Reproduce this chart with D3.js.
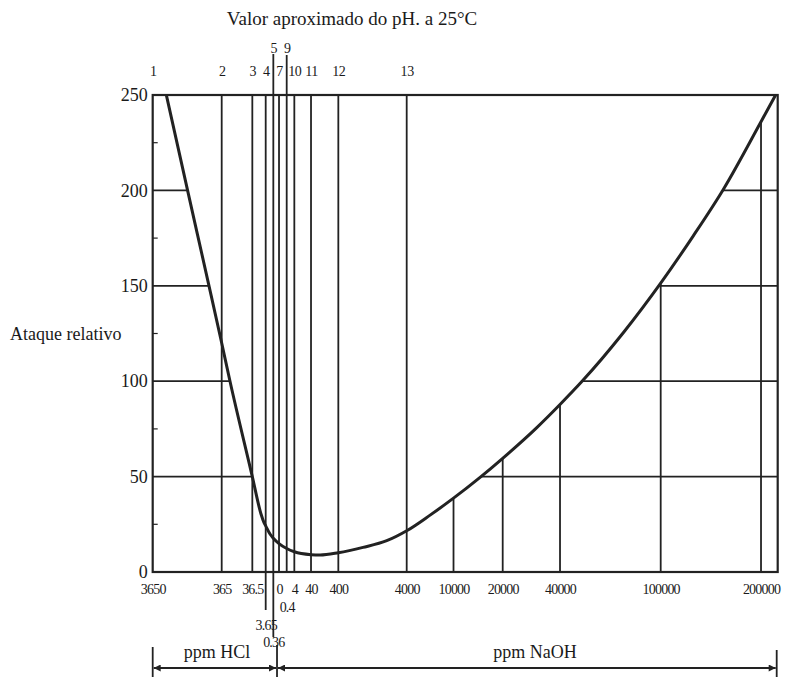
<!DOCTYPE html>
<html><head><meta charset="utf-8">
<script src="https://cdn.jsdelivr.net/npm/d3@7"></script>
<style>
body{margin:0;background:#fff}
svg{display:block}
text{font-family:"Liberation Serif","Times New Roman",serif;fill:#1a1a1a}
</style>
</head><body>
<svg id="c" width="786" height="677"></svg>
<script>
// ---------- data ----------
const ppmStops = [-3650,-365,-36.5,-3.65,-0.36,0,0.4,4,40,400,4000,10000,20000,40000,100000,200000,216000];
const stopFractions = [0,0.1104,0.1594,0.1808,0.193,0.2021,0.2144,0.2266,0.2533,0.297,0.4064,0.4813,0.56,0.6517,0.8128,0.9733,1];
const phTicks  = [-3650,-365,-36.5,-3.65,-0.36,0,0.4,4,40,400,4000];
const phLabels = ["1","2","3","4","5","7","9","10","11","12","13"];
const ppmTicks  = [-3650,-365,-36.5,-3.65,-0.36,0,0.4,4,40,400,4000,10000,20000,40000,100000,200000];
const ppmLabels = ["3650","365","36.5","3.65","0.36","0","0.4","4","40","400","4000","10000","20000","40000","100000","200000"];
const yTicks = [0,50,100,150,200,250];
const yMinorTicks = [25,75,125,175,225];
const curvePpm    = [-3000,-2000,-970,-365,-276,-36.5,-15.2,-7.8,-3.65,-1.79,-0.36,0,0.4,4,40,160,400,1700,2950,4000,7000,10000,15400,20000,31900,40000,53000,77700,100000,132500,162400,200000,214000];
const curveAttack = [250,200.5,150,120,100,50,30.4,25.9,24.2,19.9,17.7,14.9,12.3,10.6,9.1,8.9,10.1,12.9,16.4,21.6,29.8,38.7,49.6,59.6,75.7,87.8,99.8,125.4,151.4,176.2,200.5,236,250];
const title = "Valor aproximado do pH. a 25°C";
const yTitle = "Ataque relativo";
const acidLabel = "ppm HCl";
const baseLabel = "ppm NaOH";

// ---------- layout ----------
const M = {left:152.7, top:95};
const W = 625, H = 477;
const ink = "#222";

const svg = d3.select("#c");
const g = svg.append("g").attr("transform", `translate(${M.left},${M.top})`);

const x = d3.scaleLinear().domain(ppmStops).range(stopFractions.map(f => f * W));
const y = d3.scaleLinear().domain([0, 250]).range([H, 0]);

const pts = curvePpm.map((p, i) => [x(p), y(curveAttack[i])]);

function curveYAt(px) {
  for (let i = 0; i < pts.length - 1; i++) {
    const [x0, y0] = pts[i], [x1, y1] = pts[i + 1];
    if (px >= x0 && px <= x1) return y0 + (y1 - y0) * (px - x0) / (x1 - x0);
  }
  return pts[pts.length - 1][1];
}
function crossing(v, side) {
  const py = y(v);
  const idx = d3.range(pts.length - 1);
  const list = side === "left" ? idx : idx.reverse();
  for (const i of list) {
    const [x0, y0] = pts[i], [x1, y1] = pts[i + 1];
    if ((py - y0) * (py - y1) <= 0 && y0 !== y1) {
      const inLeft = curveAttack[i] > curveAttack[i + 1];
      if ((side === "left") === inLeft) return x0 + (x1 - x0) * (py - y0) / (y1 - y0);
    }
  }
  return side === "left" ? 0 : W;
}

// ---------- grid ----------
const grid = g.append("g").attr("stroke", ink).attr("stroke-width", 1.8);
yTicks.filter(v => v > 0 && v < 250).forEach(v => {
  grid.append("line").attr("x1", 0).attr("x2", crossing(v, "left")).attr("y1", y(v)).attr("y2", y(v));
  grid.append("line").attr("x1", crossing(v, "right")).attr("x2", W).attr("y1", y(v)).attr("y2", y(v));
});
phTicks.slice(1).forEach(p => {
  grid.append("line").attr("x1", x(p)).attr("x2", x(p)).attr("y1", 0).attr("y2", H);
});
ppmTicks.filter(p => p > 4000).forEach(p => {
  grid.append("line").attr("x1", x(p)).attr("x2", x(p)).attr("y1", curveYAt(x(p))).attr("y2", H);
});
grid.append("line").attr("x1", x(-0.36)).attr("x2", x(-0.36)).attr("y1", 0).attr("y2", -41);
grid.append("line").attr("x1", x(0.4)).attr("x2", x(0.4)).attr("y1", 0).attr("y2", -40);
grid.append("line").attr("x1", x(-3.65)).attr("x2", x(-3.65)).attr("y1", H).attr("y2", H + 38);
grid.append("line").attr("x1", x(-0.36)).attr("x2", x(-0.36)).attr("y1", H).attr("y2", H + 65);

yMinorTicks.forEach(v => {
  grid.append("line").attr("x1", 0).attr("x2", 5).attr("y1", y(v)).attr("y2", y(v)).attr("stroke-width", 1.2);
});

g.append("rect").attr("x", 0).attr("y", 0).attr("width", W).attr("height", H)
  .attr("fill", "none").attr("stroke", ink).attr("stroke-width", 2.2);

// ---------- curve ----------
g.append("path").datum(pts)
  .attr("d", d3.line().curve(d3.curveMonotoneX))
  .attr("fill", "none").attr("stroke", ink).attr("stroke-width", 3);

// ---------- axes ----------
const yAxis = g.append("g").call(d3.axisLeft(y).tickValues(yTicks).tickSize(0).tickPadding(5));
yAxis.select(".domain").remove();
yAxis.selectAll("text").attr("font-size", 18).attr("font-family", null).attr("fill", "#1a1a1a");

const bottomAxis = g.append("g").attr("transform", `translate(0,${H})`)
  .call(d3.axisBottom(x).tickValues(ppmTicks).tickFormat((d, i) => ppmLabels[i]).tickSize(0));
bottomAxis.select(".domain").remove();
const lowY = {"3.65": 58, "0.36": 75, "0.4": 40};
bottomAxis.selectAll("text").attr("font-size", 14).attr("font-family", null).attr("fill", "#1a1a1a")
  .attr("letter-spacing", -0.8).attr("dy", 0)
  .attr("y", (d, i) => lowY[ppmLabels[i]] || 22);

const topAxis = g.append("g")
  .call(d3.axisTop(x).tickValues(phTicks).tickFormat((d, i) => phLabels[i]).tickSize(0));
topAxis.select(".domain").remove();
topAxis.selectAll("text").attr("font-size", 14).attr("font-family", null).attr("fill", "#1a1a1a")
  .attr("letter-spacing", -0.4).attr("dy", 0)
  .attr("y", (d, i) => (phLabels[i] === "5" || phLabels[i] === "9") ? -42 : -19);

svg.append("text").attr("x", 352).attr("y", 25).attr("text-anchor", "middle").attr("font-size", 19).text(title);
svg.append("text").attr("x", 10).attr("y", 340).attr("font-size", 18).text(yTitle);

// ---------- bracket with arrows ----------
const defs = svg.append("defs");
defs.append("marker").attr("id", "ah").attr("viewBox", "0 0 10 10").attr("refX", 10).attr("refY", 5)
  .attr("markerWidth", 9).attr("markerHeight", 7).attr("markerUnits", "userSpaceOnUse").attr("orient", "auto-start-reverse")
  .append("path").attr("d", "M0,0L10,5L0,10Z").attr("fill", ink);

const by = 668;
const xl = M.left + x(-3650), xm = M.left + x(0) - 2, xr = M.left + W - 1;
const br = svg.append("g").attr("stroke", ink).attr("stroke-width", 1.8);
br.append("line").attr("x1", xl).attr("x2", xl).attr("y1", 647).attr("y2", 677);
br.append("line").attr("x1", xm).attr("x2", xm).attr("y1", 645).attr("y2", 677);
br.append("line").attr("x1", xr).attr("x2", xr).attr("y1", 650).attr("y2", 677);
br.append("line").attr("x1", xl + 1).attr("x2", xm - 1).attr("y1", by).attr("y2", by)
  .attr("marker-start", "url(#ah)").attr("marker-end", "url(#ah)");
br.append("line").attr("x1", xm + 1).attr("x2", xr - 1).attr("y1", by).attr("y2", by)
  .attr("marker-start", "url(#ah)").attr("marker-end", "url(#ah)");

svg.append("text").attr("x", 217).attr("y", 658).attr("text-anchor", "middle").attr("font-size", 18).text(acidLabel);
svg.append("text").attr("x", 535).attr("y", 658).attr("text-anchor", "middle").attr("font-size", 18).text(baseLabel);
</script>
</body></html>
